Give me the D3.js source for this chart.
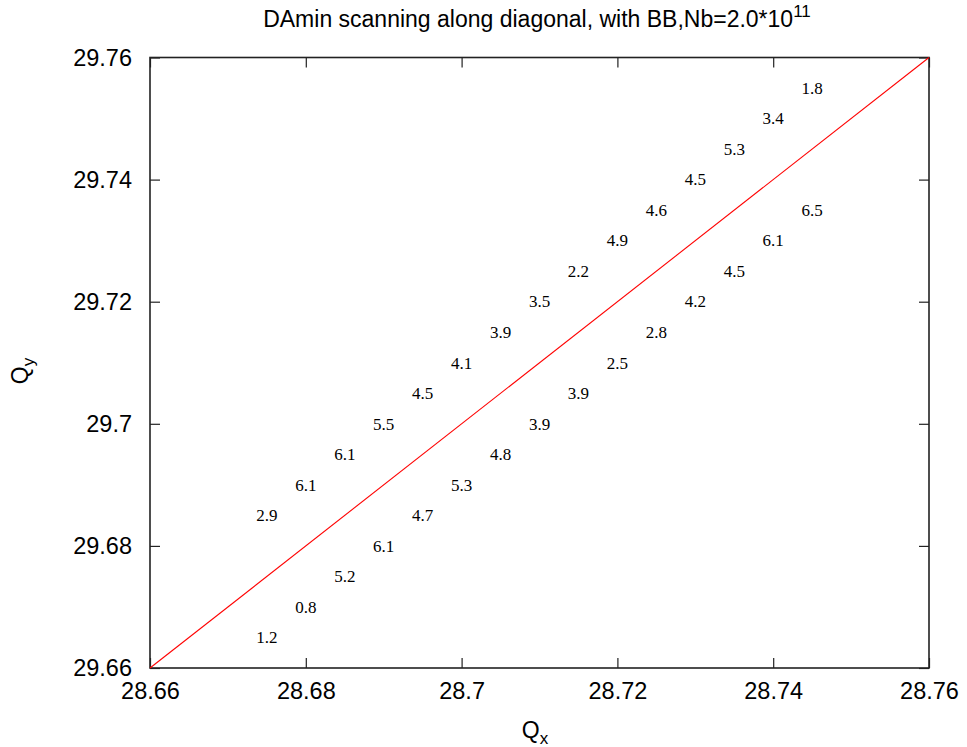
<!DOCTYPE html>
<html>
<head>
<meta charset="utf-8">
<script src="https://cdn.jsdelivr.net/npm/d3@7"></script>
<style>
  html, body { margin: 0; padding: 0; background: #fff; }
  svg { display: block; }
</style>
</head>
<body>
<svg id="chart" width="967" height="747"></svg>
<script>
// Tune scan points: upper branch (above the diagonal) and lower branch (below it)
const upperQx = [28.675, 28.68, 28.685, 28.69, 28.695, 28.70, 28.705, 28.71, 28.715, 28.72, 28.725, 28.73, 28.735, 28.74, 28.745];
const upperQy = [29.685, 29.69, 29.695, 29.70, 29.705, 29.71, 29.715, 29.72, 29.725, 29.73, 29.735, 29.74, 29.745, 29.75, 29.755];
const upperDA = ["2.9", "6.1", "6.1", "5.5", "4.5", "4.1", "3.9", "3.5", "2.2", "4.9", "4.6", "4.5", "5.3", "3.4", "1.8"];

const lowerQx = [28.675, 28.68, 28.685, 28.69, 28.695, 28.70, 28.705, 28.71, 28.715, 28.72, 28.725, 28.73, 28.735, 28.74, 28.745];
const lowerQy = [29.665, 29.67, 29.675, 29.68, 29.685, 29.69, 29.695, 29.70, 29.705, 29.71, 29.715, 29.72, 29.725, 29.73, 29.735];
const lowerDA = ["1.2", "0.8", "5.2", "6.1", "4.7", "5.3", "4.8", "3.9", "3.9", "2.5", "2.8", "4.2", "4.5", "6.1", "6.5"];

// Diagonal Qx = Qy - 1
const diagQx = [28.66, 28.76];
const diagQy = [29.66, 29.76];

const xTicks = [28.66, 28.68, 28.70, 28.72, 28.74, 28.76];
const xTickLabels = ["28.66", "28.68", "28.7", "28.72", "28.74", "28.76"];
const yTicks = [29.66, 29.68, 29.70, 29.72, 29.74, 29.76];
const yTickLabels = ["29.66", "29.68", "29.7", "29.72", "29.74", "29.76"];

const margin = { left: 150, right: 38, top: 57.5, bottom: 79 };
const W = 967, H = 747;
const svg = d3.select("#chart");

const x = d3.scaleLinear().domain([28.66, 28.76]).range([margin.left, W - margin.right]);
const y = d3.scaleLinear().domain([29.66, 29.76]).range([H - margin.bottom, margin.top]);

const sans = "'Liberation Sans', Arial, Helvetica, sans-serif";
const serif = "'Liberation Serif', 'Times New Roman', Times, serif";
const tickLen = 10;

// Axes with inward ticks on all four sides
function styleAxis(g) {
  g.select(".domain").remove();
  g.selectAll(".tick line").attr("stroke", "#222").attr("stroke-width", 1.2);
  g.selectAll(".tick text").attr("font-family", sans).attr("font-size", 23.5).attr("fill", "#000");
}

svg.append("g")
  .attr("transform", `translate(0,${y.range()[0]})`)
  .call(d3.axisBottom(x).tickValues(xTicks).tickFormat((d, i) => xTickLabels[i])
    .tickSizeInner(-tickLen).tickSizeOuter(0).tickPadding(14))
  .call(styleAxis);

svg.append("g")
  .attr("transform", `translate(0,${y.range()[1]})`)
  .call(d3.axisTop(x).tickValues(xTicks).tickFormat("")
    .tickSizeInner(-tickLen).tickSizeOuter(0))
  .call(styleAxis);

svg.append("g")
  .attr("transform", `translate(${x.range()[0]},0)`)
  .call(d3.axisLeft(y).tickValues(yTicks).tickFormat((d, i) => yTickLabels[i])
    .tickSizeInner(-tickLen).tickSizeOuter(0).tickPadding(18))
  .call(styleAxis);

svg.append("g")
  .attr("transform", `translate(${x.range()[1]},0)`)
  .call(d3.axisRight(y).tickValues(yTicks).tickFormat("")
    .tickSizeInner(-tickLen).tickSizeOuter(0))
  .call(styleAxis);

// Frame
svg.append("rect")
  .attr("x", x.range()[0]).attr("y", y.range()[1])
  .attr("width", x.range()[1] - x.range()[0])
  .attr("height", y.range()[0] - y.range()[1])
  .attr("fill", "none").attr("stroke", "#222").attr("stroke-width", 1.6);

// Diagonal line
const line = d3.line().x(d => x(d[0])).y(d => y(d[1]));
svg.append("path")
  .datum(diagQx.map((q, i) => [q, diagQy[i]]))
  .attr("d", line)
  .attr("fill", "none").attr("stroke", "#ff0000").attr("stroke-width", 1.1);

// DA labels at scan points
const labelSize = 17;
function drawLabels(qx, qy, da) {
  svg.append("g").selectAll("text")
    .data(da.map((t, i) => ({ t, qx: qx[i], qy: qy[i] })))
    .join("text")
    .attr("x", d => x(d.qx))
    .attr("y", d => y(d.qy) + labelSize * 0.34)
    .attr("text-anchor", "middle")
    .attr("font-family", serif)
    .attr("font-size", labelSize)
    .attr("fill", "#000")
    .text(d => d.t);
}
drawLabels(upperQx, upperQy, upperDA);
drawLabels(lowerQx, lowerQy, lowerDA);

// Title
const title = svg.append("text")
  .attr("x", 537).attr("y", 27)
  .attr("text-anchor", "middle")
  .attr("font-family", sans).attr("font-size", 23)
  .attr("fill", "#000");
title.append("tspan").text("DAmin scanning along diagonal, with BB,Nb=2.0*10");
title.append("tspan").attr("dy", -10).attr("font-size", 17).text("11");

// Axis labels
const xl = svg.append("text")
  .attr("x", 535).attr("y", 738)
  .attr("text-anchor", "middle")
  .attr("font-family", sans).attr("font-size", 23).attr("fill", "#000");
xl.append("tspan").text("Q");
xl.append("tspan").attr("dy", 6).attr("font-size", 17).text("x");

const yl = svg.append("text")
  .attr("transform", "translate(28,371) rotate(-90)")
  .attr("text-anchor", "middle")
  .attr("font-family", sans).attr("font-size", 23).attr("fill", "#000");
yl.append("tspan").text("Q");
yl.append("tspan").attr("dy", 6).attr("font-size", 17).text("y");
</script>
</body>
</html>
